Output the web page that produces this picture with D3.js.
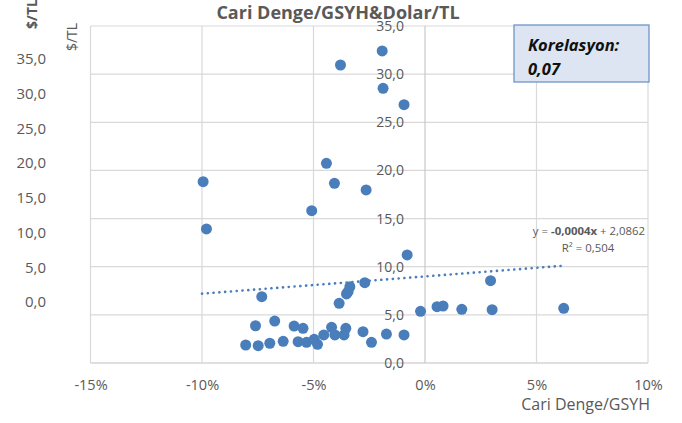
<!DOCTYPE html>
<html>
<head>
<meta charset="utf-8">
<script src="https://cdn.jsdelivr.net/npm/d3@7"></script>
<style>
  body { margin: 0; background: #fff; }
  svg { font-family: "Open Sans", sans-serif; }
  .lbl { fill: #595959; }
</style>
</head>
<body>
<svg id="chart" width="682" height="423"></svg>
<script>
// cari denge / GSYH (%) vs dolar/TL
var cariDenge = [-9.95, -9.80, -1.92, -3.79, -1.88, -0.94, -4.42, -4.06, -2.64, -5.08,
  -0.80, -7.32, -2.70, -3.37, -3.45, -3.52, -3.85, -0.20, 0.54, 0.81,
  1.65, 2.94, 3.01, 6.22, -8.04, -7.48, -6.96, -6.36, -7.60, -6.74,
  -5.87, -5.47, -5.69, -5.31, -4.97, -4.82, -4.54, -4.19, -4.04, -3.63,
  -3.55, -2.78, -2.40, -1.73, -0.94];
var dolarTL = [18.83, 13.92, 32.41, 30.95, 28.53, 26.83, 20.74, 18.66, 17.97, 15.82,
  11.22, 6.89, 8.34, 7.92, 7.41, 7.17, 6.20, 5.37, 5.85, 5.92,
  5.58, 8.55, 5.54, 5.68, 1.87, 1.80, 2.05, 2.25, 3.87, 4.36,
  3.84, 3.60, 2.21, 2.15, 2.46, 1.94, 2.91, 3.71, 2.91, 2.91,
  3.60, 3.25, 2.15, 3.01, 2.91];
var trendX = [-10, 6.2];
var trendY = [7.2, 10.1];
var xTicks = [-15, -10, -5, 0, 5, 10];
var yTicks = [0, 5, 10, 15, 20, 25, 30, 35];

var svg = d3.select("#chart");
var x = d3.scaleLinear().domain([-15, 10]).range([90.5, 648]);
var y = d3.scaleLinear().domain([0, 35]).range([363, 26]);
var yGhost = d3.scaleLinear().domain([0, 35]).range([307.3, 64]);
var fmtY = function(d) { return d.toFixed(1).replace(".", ","); };

// grid
svg.append("g").selectAll("line").data(yTicks).join("line")
  .attr("x1", x(-15)).attr("x2", x(10))
  .attr("y1", d => y(d)).attr("y2", d => y(d))
  .attr("stroke", d => d === 0 ? "#bfbfbf" : "#d9d9d9").attr("stroke-width", 1.2);
svg.append("g").selectAll("line").data(xTicks).join("line")
  .attr("x1", d => x(d)).attr("x2", d => x(d))
  .attr("y1", y(0)).attr("y2", y(35))
  .attr("stroke", d => d === 0 ? "#c8c8c8" : "#d9d9d9").attr("stroke-width", 1.2);

// y axis sitting on 0%
var yAx = svg.append("g").attr("transform", "translate(" + x(0) + ",0)")
  .call(d3.axisLeft(y).tickValues(yTicks).tickSize(0).tickPadding(21).tickFormat(fmtY));
yAx.select(".domain").remove();
yAx.selectAll("text").attr("class", "lbl").style("font-size", "14px").style("font-family", "Open Sans");

// x axis
var xAx = svg.append("g").attr("transform", "translate(0," + y(0) + ")")
  .call(d3.axisBottom(x).tickValues(xTicks).tickSize(0).tickPadding(17).tickFormat(d => d + "%"));
xAx.select(".domain").remove();
xAx.selectAll("text").attr("class", "lbl").style("font-size", "14.5px").style("font-family", "Open Sans");

// leftover axis labels on the left
svg.append("g").selectAll("text").data(yTicks).join("text")
  .attr("class", "lbl").attr("x", 46).attr("y", d => yGhost(d))
  .attr("text-anchor", "end").style("font-size", "15px")
  .text(fmtY);

svg.append("text").attr("class", "lbl")
  .attr("transform", "translate(37,14) rotate(-90)")
  .attr("text-anchor", "middle").style("font-size", "14px").style("font-weight", "bold")
  .text("$/TL");
svg.append("text").attr("class", "lbl")
  .attr("transform", "translate(77,37) rotate(-90)")
  .attr("text-anchor", "middle").style("font-size", "14px")
  .text("$/TL");

// trendline
var line = d3.line().x(d => x(d[0])).y(d => y(d[1]));
svg.append("path").datum(d3.zip(trendX, trendY))
  .attr("d", line).attr("fill", "none")
  .attr("stroke", "#4a7ebb").attr("stroke-width", 2.6)
  .attr("stroke-linecap", "round").attr("stroke-dasharray", "0.1 5.7");

// points
svg.append("g").selectAll("circle").data(d3.zip(cariDenge, dolarTL)).join("circle")
  .attr("cx", d => x(d[0])).attr("cy", d => y(d[1])).attr("r", 5.5)
  .attr("fill", "#4a7ebb");

// equation
var eq = svg.append("text").attr("class", "lbl").attr("x", 645).attr("y", 235)
  .attr("text-anchor", "end").style("font-size", "11.4px");
eq.append("tspan").text("y = ");
eq.append("tspan").style("font-weight", "bold").text("-0,0004x");
eq.append("tspan").text(" + 2,0862");
svg.append("text").attr("class", "lbl").attr("x", 588).attr("y", 252)
  .attr("text-anchor", "middle").style("font-size", "11.4px")
  .text("R² = 0,504");

// title
svg.append("text").attr("class", "lbl").attr("x", 338).attr("y", 18.5)
  .attr("text-anchor", "middle").style("font-size", "18px").style("font-weight", "bold")
  .text("Cari Denge/GSYH&Dolar/TL");

svg.append("text").attr("class", "lbl").attr("x", 650).attr("y", 410)
  .attr("text-anchor", "end").style("font-size", "16px")
  .text("Cari Denge/GSYH");

// korelasyon box
svg.append("rect").attr("x", 514).attr("y", 25).attr("width", 135).attr("height", 57)
  .attr("fill", "#dce5f1").attr("stroke", "#6f94c9").attr("stroke-width", 1.3);
svg.append("text").attr("x", 528).attr("y", 50.5)
  .style("font-size", "16.5px").style("font-weight", "bold").style("font-style", "italic")
  .attr("fill", "#111").text("Korelasyon:");
svg.append("text").attr("x", 528).attr("y", 75)
  .style("font-size", "16.5px").style("font-weight", "bold").style("font-style", "italic")
  .attr("fill", "#111").text("0,07");
</script>
</body>
</html>
